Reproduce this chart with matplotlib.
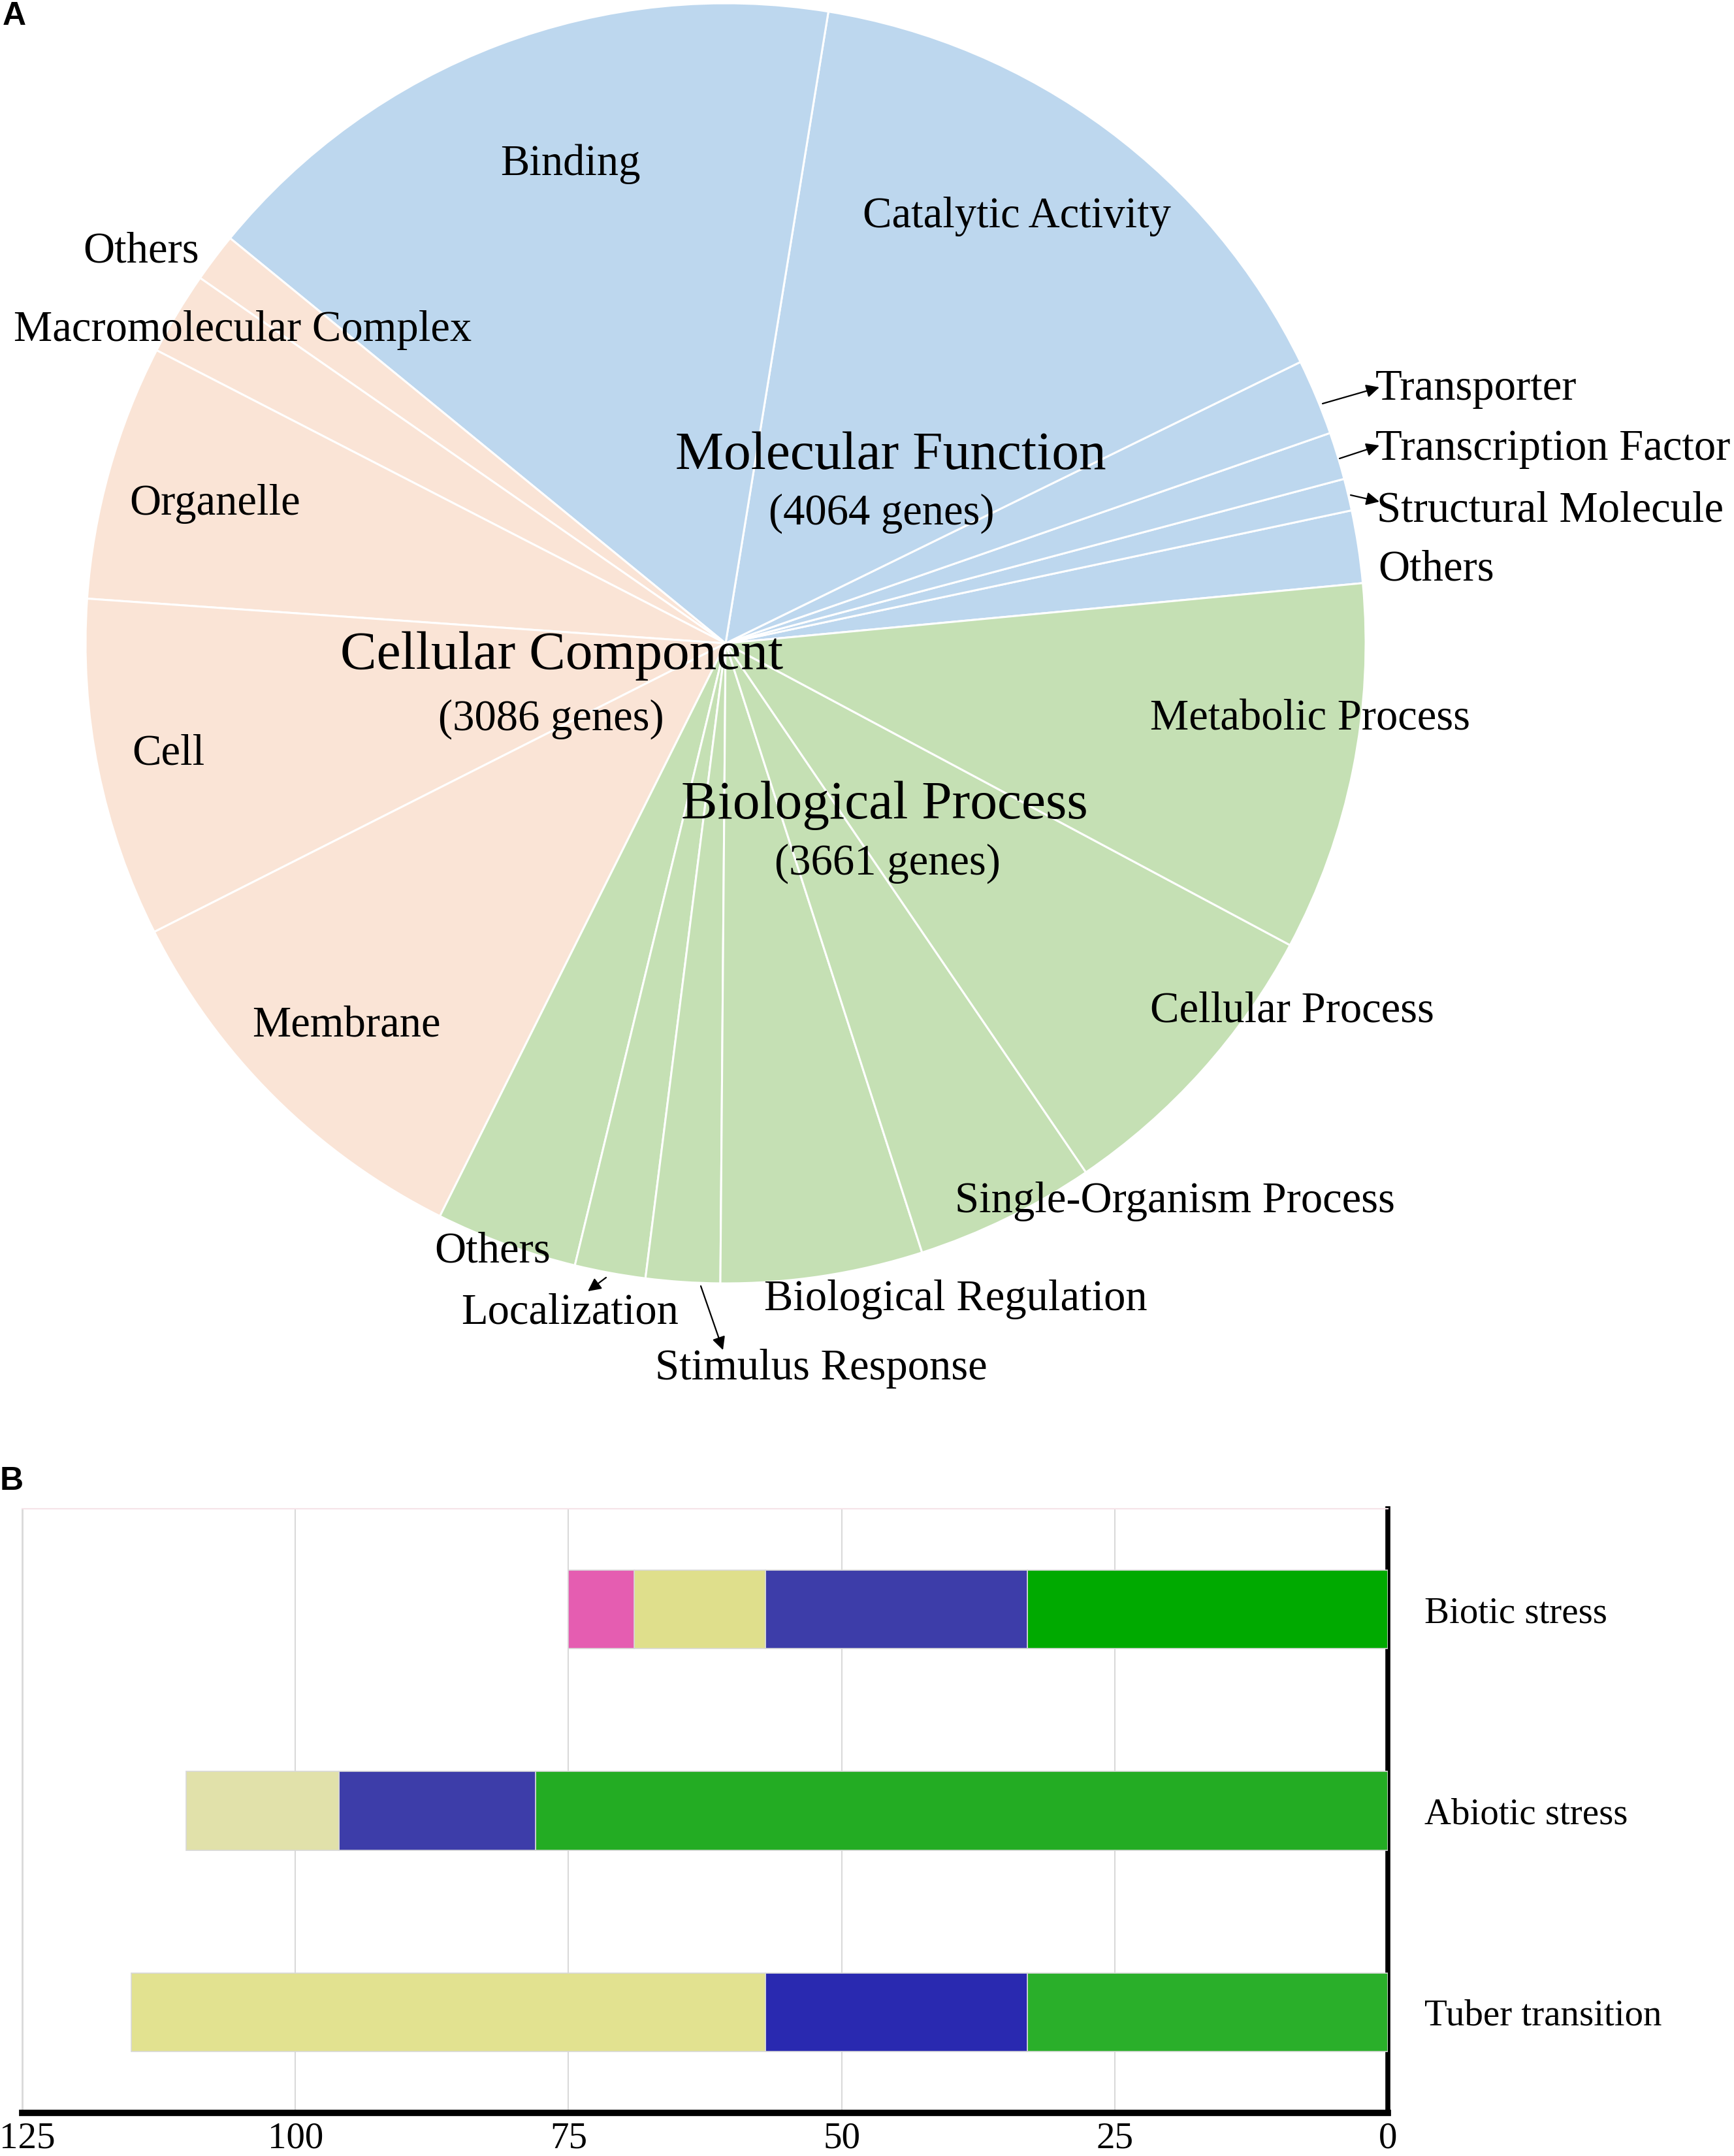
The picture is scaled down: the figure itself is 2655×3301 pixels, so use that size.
import matplotlib
matplotlib.use('Agg')
import matplotlib.pyplot as plt
import matplotlib.transforms as mtransforms
import numpy as np

W, H = 2655, 3301
SERIF = ['Liberation Serif', 'DejaVu Serif']
SANS = ['Liberation Sans', 'DejaVu Sans']

# ---------------- Data: panel A (GO categories, genes) ----------------
mf_labels = ['Others', 'Structural Molecule', 'Transcription Factor', 'Transporter',
             'Catalytic Activity', 'Binding']
mf_values = [198, 87, 129, 207, 1642, 1801]          # 4064 genes
cc_labels = ['Others', 'Macromolecular Complex', 'Organelle', 'Cell', 'Membrane']
cc_values = [134, 227, 698, 925, 1102]                # 3086 genes
bp_labels = ['Others', 'Localization', 'Stimulus Response', 'Biological Regulation',
             'Single-Organism Process', 'Cellular Process', 'Metabolic Process']
bp_values = [387, 193, 202, 551, 492, 829, 1007]      # 3661 genes
group_names = ['Molecular Function', 'Cellular Component', 'Biological Process']
group_totals = ['(4064 genes)', '(3086 genes)', '(3661 genes)']
group_colors = ['#BDD7EE', '#FAE4D6', '#C5E0B4']

# ---------------- Data: panel B (stacked bars) ----------------
categories = ['Biotic stress', 'Abiotic stress', 'Tuber transition']
green_vals = [33, 78, 33]
blue_vals = [24, 18, 24]
yellow_vals = [12, 14, 58]
pink_vals = [6, 0, 0]
green_cols = ['#00AA00', '#23AC23', '#2AAF2A']
blue_cols = ['#3D3DA9', '#3D3DA9', '#2929B0']
yellow_cols = ['#DFDF8C', '#E1E1AA', '#E2E290']
pink_cols = ['#E55DB1', '#E55DB1', '#E55DB1']
tick_values = [125, 100, 75, 50, 25, 0]
tick_labels = ['125', '100', '75', '50', '25', '0']

fig = plt.figure(figsize=(W / 100, H / 100), dpi=100)

# ---------------- Panel A ----------------
ax = fig.add_axes([0, 0, 1, 1])
values = mf_values + cc_values + bp_values
colors = ([group_colors[0]] * len(mf_values) + [group_colors[1]] * len(cc_values)
          + [group_colors[2]] * len(bp_values))
cx, cy, r = 1111, 985, 980
ax.pie(values, colors=colors, startangle=5.4, counterclock=True,
       center=(cx, H - cy), radius=r,
       wedgeprops=dict(edgecolor='white', linewidth=2.2))
ax.set_xlim(0, W)
ax.set_ylim(0, H)
ax.set_aspect('auto')
ax.axis('off')

DY = 9  # vertical offset correction (pixels)


def T(x, y, s, size=48, ha='center'):
    ax.text(x, H - (y + DY), s, fontsize=size, family=SERIF, ha=ha, va='center',
            color='black')


# slice labels (positions in pixels from top-left)
T(873, 242, mf_labels[5])
T(1557, 323, mf_labels[4])
T(2106, 586, mf_labels[3], ha='left')
T(2106, 678, mf_labels[2], ha='left')
T(2108, 773, mf_labels[1], ha='left')
T(2110, 863, mf_labels[0], ha='left')

T(216, 376, cc_labels[0])
T(372, 496, cc_labels[1])
T(329, 762, cc_labels[2])
T(258, 1145, cc_labels[3])
T(530, 1562, cc_labels[4])

T(2006, 1092, bp_labels[6])
T(1978, 1539, bp_labels[5])
T(1799, 1831, bp_labels[4])
T(1463, 1980, bp_labels[3])
T(754, 1907, bp_labels[0])
T(873, 2001, bp_labels[1])
T(1257, 2087, bp_labels[2])

# group labels
T(1364, 689, group_names[0], size=60)
T(1350, 777, group_totals[0])
T(860, 995, group_names[1], size=60)
T(844, 1092, group_totals[1])
T(1354, 1224, group_names[2], size=60)
T(1359, 1313, group_totals[2])


# arrows
def A(tx, ty, hx, hy):
    ax.annotate('', xy=(hx, H - hy), xytext=(tx, H - ty),
                arrowprops=dict(arrowstyle='-|>', color='black', lw=1.6,
                                mutation_scale=30, shrinkA=0, shrinkB=0))


A(2025, 618, 2112, 593)
A(2051, 702, 2112, 682)
A(2068, 758, 2112, 768)
A(928, 1956, 900, 1977)
A(1073, 1969, 1107, 2067)

fig.text(4 / W, 1 - 2 / H, 'A', family=SANS, fontweight='bold', fontsize=36,
         ha='left', va='top')
fig.text(0 / W, 1 - 2245 / H, 'B', family=SANS, fontweight='bold', fontsize=36,
         ha='left', va='top')

# ---------------- Panel B ----------------
left, right, top, bottom = 34, 2125, 2310, 3235
bx = fig.add_axes([left / W, 1 - bottom / H, (right - left) / W, (bottom - top) / H])
y = np.arange(len(categories))
cum = np.zeros(len(categories))
for vals, cols in [(green_vals, green_cols), (blue_vals, blue_cols),
                   (yellow_vals, yellow_cols), (pink_vals, pink_cols)]:
    vals = np.array(vals, dtype=float)
    idx = vals > 0
    bx.barh(y[idx], vals[idx], left=cum[idx], height=0.39,
            color=[c for c, k in zip(cols, idx) if k],
            edgecolor='#d8d8d8', linewidth=1.2, zorder=3)
    cum += vals

bx.set_xlim(125, 0)
bx.set_ylim(2.5, -0.5)
bx.set_xticks(tick_values)
bx.set_xticklabels(tick_labels, family=SERIF, fontsize=41)
bx.xaxis.grid(True, color='#d9d9d9', linewidth=1.5)
bx.set_axisbelow(True)
bx.yaxis.tick_right()
bx.set_yticks(y)
bx.set_yticklabels(categories, family=SERIF, fontsize=41)
bx.tick_params(axis='x', length=0, pad=10)
bx.tick_params(axis='y', length=0, pad=40)
bx.spines['bottom'].set_linewidth(7)
bx.spines['bottom'].set_color('black')
bx.spines['right'].set_linewidth(5.5)
bx.spines['right'].set_color('black')
bx.spines['left'].set_linewidth(2)
bx.spines['left'].set_color('#d9d9d9')
bx.spines['top'].set_linewidth(1.5)
bx.spines['top'].set_color('#f6e3e8')

# keep the leftmost tick label inside the figure
first = bx.get_xticklabels()[0]
first.set_transform(first.get_transform()
                    + mtransforms.ScaledTranslation(8 / 100, 0, fig.dpi_scale_trans))

fig.savefig('out.png', dpi=100, facecolor='white')
